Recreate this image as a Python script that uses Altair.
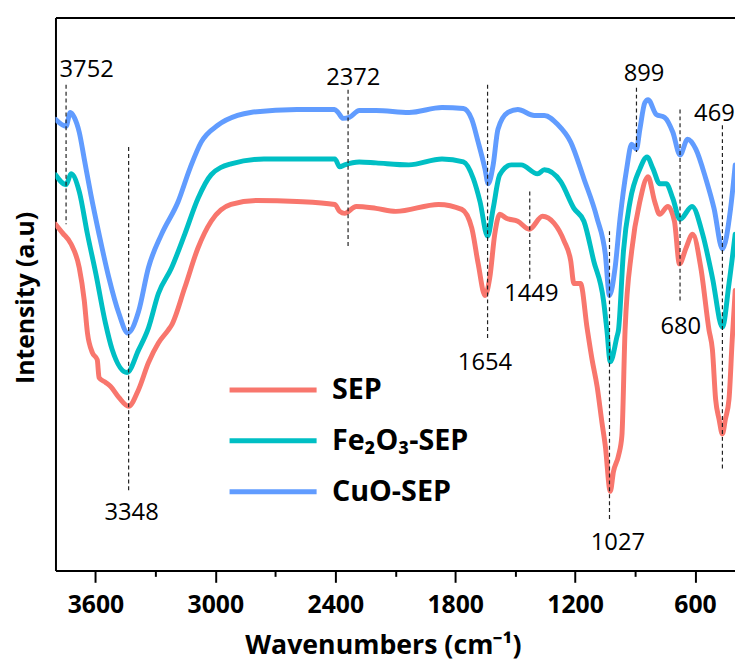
import altair as alt
import pandas as pd

# ---------------- data ----------------
series_names = ["SEP", "Fe₂O₃-SEP", "CuO-SEP"]
series_colors = ["#F8766D", "#00BFC4", "#619CFF"]

sep_wn = [3800, 3764, 3722, 3681, 3656, 3640, 3615, 3591, 3582, 3549, 3524, 3483, 3434,
          3384, 3335, 3285, 3236, 3219, 3153, 3087, 3021, 2922, 2790, 2592, 2402, 2378,
          2353, 2295, 2196, 2097, 1883, 1767, 1717, 1685, 1651, 1627, 1602, 1577, 1544,
          1487, 1429, 1363, 1305, 1255, 1222, 1206, 1173, 1140, 1115, 1090, 1066, 1049,
          1024, 1008, 983, 966, 950, 917, 876, 835, 802, 777, 736, 703, 678, 645, 612,
          571, 530, 513, 497, 480, 463, 448, 430, 414, 399]
sep_h = [350, 341, 330, 306, 273, 240, 220, 213, 195, 190, 186, 175, 166,
         183, 210, 230, 243, 248, 286, 326, 353, 370, 374, 373, 370, 363,
         361, 368, 366, 363, 370, 365, 346, 310, 278, 296, 340, 360, 356,
         353, 345, 358, 351, 333, 313, 290, 290, 245, 213, 186, 150, 126,
         80, 100, 116, 136, 243, 323, 373, 398, 373, 360, 368, 353, 310, 326, 340,
         306, 243, 223, 173, 153, 138, 153, 173, 233, 283]

fe_wn = [3800, 3747, 3722, 3681, 3640, 3598, 3550, 3516, 3442, 3384, 3335, 3285, 3219,
         3153, 3087, 3021, 2922, 2757, 2402, 2378, 2353, 2280, 2196, 2032, 1866, 1759,
         1709, 1676, 1638, 1610, 1577, 1519, 1470, 1388, 1354, 1272, 1206, 1156, 1107,
         1058, 1041, 1024, 991, 983, 958, 925, 876, 840, 810, 777, 744, 711, 675, 615,
         562, 513, 463, 430, 399]
fe_h = [400, 390, 401, 383, 340, 300, 250, 223, 200, 223, 245, 280, 306,
        340, 376, 400, 411, 416, 416, 408, 410, 413, 412, 410, 416, 413,
        396, 373, 338, 366, 400, 410, 410, 401, 405, 393, 366, 353, 313,
        273, 243, 211, 236, 243, 323, 373, 406, 418, 406, 391, 391, 376, 355, 368,
        340, 296, 246, 290, 340]

cuo_wn = [3800, 3747, 3726, 3706, 3681, 3656, 3623, 3582, 3533, 3483, 3438, 3384, 3335,
          3269, 3186, 3128, 3071, 2988, 2889, 2824, 2592, 2404, 2386, 2361, 2330, 2280,
          2196, 2031, 1866, 1759, 1717, 1685, 1651, 1635, 1610, 1586, 1536, 1487, 1404,
          1354, 1288, 1222, 1156, 1090, 1049, 1028, 1000, 975, 942, 917, 893, 876, 851,
          835, 794, 752, 711, 675, 637, 596, 546, 505, 463, 422, 399]
cuo_h = [456, 449, 463, 458, 443, 416, 380, 340, 296, 260, 240, 262, 306,
         340, 373, 406, 433, 450, 460, 463, 466, 466, 463, 457, 458, 465,
         465, 463, 468, 467, 456, 433, 406, 391, 410, 446, 463, 466, 460,
         460, 451, 433, 396, 356, 320, 278, 306, 356, 406, 431, 426, 446, 473,
         476, 461, 458, 443, 420, 436, 426, 396, 366, 325, 366, 410]

# annotation lines: position on the axis, top and bottom
peak_labels = ["3752", "3348", "2372", "1654", "1449", "1027", "899", "680", "469"]
peak_wn = [3747, 3434, 2336, 1638, 1427, 1028, 893, 675, 463]
peak_top = [491, 428, 486, 491, 383, 343, 488, 466, 450]
peak_bottom = [350, 78, 325, 233, 295, 50, 423, 270, 101]
label_wn = [3644, 3419, 2310, 1651, 1419, 986, 855, 671, 503]
label_h = [506, 58, 498, 210, 279, 28, 502, 246, 461]

tick_values = [3600, 3300, 3000, 2700, 2400, 2100, 1800, 1500, 1200, 900, 600]

# ---------------- tables ----------------
rows = []
for name, wns, hs in zip(series_names, [sep_wn, fe_wn, cuo_wn], [sep_h, fe_h, cuo_h]):
    for i, (w, h) in enumerate(zip(wns, hs)):
        rows.append({"series": name, "wn": w, "h": h, "i": i})
lines_df = pd.DataFrame(rows)

rules_df = pd.DataFrame({"wn": peak_wn, "top": peak_top, "bottom": peak_bottom})
text_df = pd.DataFrame({"wn": label_wn, "h": label_h, "label": peak_labels})

FONT = "Open Sans"
xscale = alt.Scale(domain=[400, 3800], reverse=True, nice=False, zero=False)
yscale = alt.Scale(domain=[0, 559], nice=False, zero=False)

bottom_axis = alt.Axis(
    orient="bottom", values=tick_values, format="d",
    labelExpr="datum.value % 600 === 0 ? datum.label : ''",
    tickSize={"condition": {"test": "datum.value % 600 === 0", "value": 12}, "value": 6},
    tickColor="black", tickWidth=2, domainColor="black", domainWidth=2, grid=False,
    labelFont=FONT, labelFontSize=25, labelFontWeight="bold", labelColor="black",
    labelPadding=11, labelFlush=False, labelOverlap=False,
    title="Wavenumbers (cm⁻¹)", titleFont=FONT, titleFontSize=27, titleFontWeight="bold",
    titleColor="black", titleX=331, titleY=84, titleBaseline="alphabetic", titleAlign="center",
)
top_axis = alt.Axis(orient="top", labels=False, ticks=False, grid=False, domain=True,
                    domainColor="black", domainWidth=2, title=None)
left_axis = alt.Axis(
    orient="left", labels=False, ticks=False, grid=False, domain=True,
    domainColor="black", domainWidth=2,
    title="Intensity (a.u)", titleFont=FONT, titleFontSize=25, titleFontWeight="bold",
    titleColor="black", titlePadding=17, titleY=283,
)

lines = alt.Chart(lines_df).mark_line(
    strokeWidth=5, interpolate="monotone", strokeCap="round", strokeJoin="round", clip=True
).encode(
    x=alt.X("wn:Q", scale=xscale, axis=bottom_axis),
    y=alt.Y("h:Q", scale=yscale, axis=left_axis),
    color=alt.Color(
        "series:N",
        scale=alt.Scale(domain=series_names, range=series_colors),
        sort=series_names,
        legend=alt.Legend(
            orient="none", legendX=161.5, legendY=362, title=None,
            symbolType="M0,0H16", symbolSize=121, symbolStrokeWidth=5,
            labelFont=FONT, labelFontSize=29, labelFontWeight="bold", labelColor="black",
            labelOffset=89, rowPadding=21.5, padding=0, labelLimit=400,
        ),
    ),
    order=alt.Order("i:Q"),
)

rules = alt.Chart(rules_df).mark_rule(strokeDash=[4, 3], strokeWidth=1.2, color="#222").encode(
    x=alt.X("wn:Q", scale=xscale, axis=top_axis),
    y=alt.Y("top:Q", scale=yscale, axis=None),
    y2="bottom:Q",
)

texts = alt.Chart(text_df).mark_text(
    font=FONT, fontSize=24, color="black", align="center", baseline="middle"
).encode(
    x=alt.X("wn:Q", scale=xscale, axis=None),
    y=alt.Y("h:Q", scale=yscale, axis=None),
    text="label:N",
)

chart = alt.layer(lines, rules, texts).resolve_axis(x="independent", y="independent").properties(
    width=687, height=559,
    padding={"left": 48, "top": 6, "right": 0, "bottom": 91},
    autosize=alt.AutoSizeParams(type="none"),
).configure_view(stroke=None).configure(background="white")

chart.save("out.html", embed_options={"renderer": "svg", "actions": False})
